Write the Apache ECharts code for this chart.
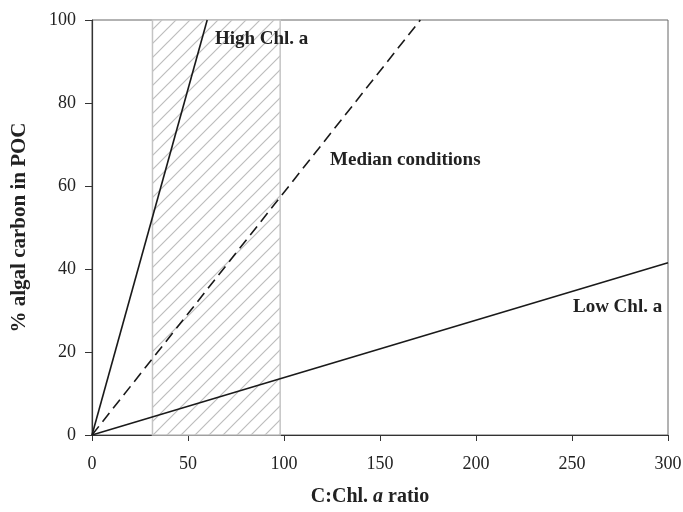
<!DOCTYPE html>
<html>
<head>
<meta charset="utf-8">
<script src="https://cdn.jsdelivr.net/npm/echarts@6/dist/echarts.min.js"></script>
<style>
  html, body { margin: 0; padding: 0; background: #fff; }
  #chart { width: 683px; height: 512px; }
</style>
</head>
<body>
<div id="chart"></div>
<script>
// line end points: [C:Chl a ratio, % algal carbon]
const highChl = [[0, 0], [60, 100]]
const medianCond = [[0, 0], [171, 100]]
const lowChl = [[0, 0], [300, 41.5]]
// range of typical C:Chl a ratios (hatched)
const ratioRange = [31.5, 98]

const xTicks = { min: 0, max: 300, interval: 50 }
const yTicks = { min: 0, max: 100, interval: 20 }

const serif = '"Liberation Serif", "DejaVu Serif", serif'

// diagonal hatch pattern
const makeHatch = () => {
  const size = 14
  const c = document.createElement('canvas')
  c.width = size
  c.height = size
  const ctx = c.getContext('2d')
  ctx.fillStyle = '#ffffff'
  ctx.fillRect(0, 0, size, size)
  ctx.strokeStyle = '#bdbdbd'
  ctx.lineWidth = 1.2
  ctx.beginPath()
  ctx.moveTo(-1, size + 1)
  ctx.lineTo(size + 1, -1)
  ctx.moveTo(-1, 1)
  ctx.lineTo(1, -1)
  ctx.moveTo(size - 1, size + 1)
  ctx.lineTo(size + 1, size - 1)
  ctx.stroke()
  return c
}

const labelStyle = {
  fontFamily: serif,
  fontWeight: 'bold',
  fontSize: 19,
  color: '#222'
}

const textMark = (x, y, text) => ({
  coord: [x, y],
  symbol: 'circle',
  symbolSize: 0,
  label: { show: true, position: 'right', distance: 0, formatter: text, ...labelStyle }
})

const chart = echarts.init(document.getElementById('chart'))
chart.setOption({
  animation: false,
  grid: {
    left: 92,
    right: 15,
    top: 20,
    bottom: 77,
    outerBoundsMode: 'none',
    containLabel: false,
    show: true,
    borderColor: '#666',
    borderWidth: 1
  },
  xAxis: {
    type: 'value',
    ...xTicks,
    name: '{b|C:Chl. }{i|a}{b| ratio}',
    nameLocation: 'middle',
    nameGap: 52,
    nameTextStyle: {
      padding: [0, 20, 0, 0],
      rich: {
        b: { fontFamily: serif, fontWeight: 'bold', fontSize: 20, color: '#222' },
        i: { fontFamily: serif, fontWeight: 'bold', fontStyle: 'italic', fontSize: 20, color: '#222' }
      }
    },
    axisLine: { show: true, onZero: false, lineStyle: { color: '#333', width: 1.2 } },
    axisTick: { show: true, length: 6, lineStyle: { color: '#333' } },
    axisLabel: { margin: 20, fontFamily: serif, fontSize: 18, color: '#222' },
    splitLine: { show: false }
  },
  yAxis: {
    type: 'value',
    ...yTicks,
    name: '% algal carbon in POC',
    nameLocation: 'middle',
    nameGap: 62,
    nameTextStyle: { fontFamily: serif, fontWeight: 'bold', fontSize: 21, color: '#222' },
    axisLine: { show: true, onZero: false, lineStyle: { color: '#333', width: 1.2 } },
    axisTick: { show: true, length: 7, lineStyle: { color: '#333' } },
    axisLabel: { margin: 16, fontFamily: serif, fontSize: 18, color: '#222' },
    splitLine: { show: false }
  },
  series: [
    {
      name: 'range',
      type: 'line',
      data: [],
      z: 1,
      silent: true,
      markArea: {
        silent: true,
        itemStyle: {
          color: { image: makeHatch(), repeat: 'repeat' },
          borderColor: '#c4c4c4',
          borderWidth: 1.5
        },
        data: [[{ xAxis: ratioRange[0] }, { xAxis: ratioRange[1] }]]
      }
    },
    {
      name: 'High Chl. a',
      type: 'line',
      data: highChl,
      z: 3,
      symbol: 'none',
      lineStyle: { color: '#1a1a1a', width: 1.6 },
      markPoint: { data: [textMark(64, 95.3, 'High Chl. a')] }
    },
    {
      name: 'Median conditions',
      type: 'line',
      data: medianCond,
      z: 3,
      symbol: 'none',
      lineStyle: { color: '#1a1a1a', width: 1.6, type: [11, 6] },
      markPoint: { data: [textMark(124, 66.3, 'Median conditions')] }
    },
    {
      name: 'Low Chl. a',
      type: 'line',
      data: lowChl,
      z: 3,
      symbol: 'none',
      lineStyle: { color: '#1a1a1a', width: 1.6 },
      markPoint: { data: [textMark(250.5, 30.8, 'Low Chl. a')] }
    }
  ]
})
</script>
</body>
</html>
